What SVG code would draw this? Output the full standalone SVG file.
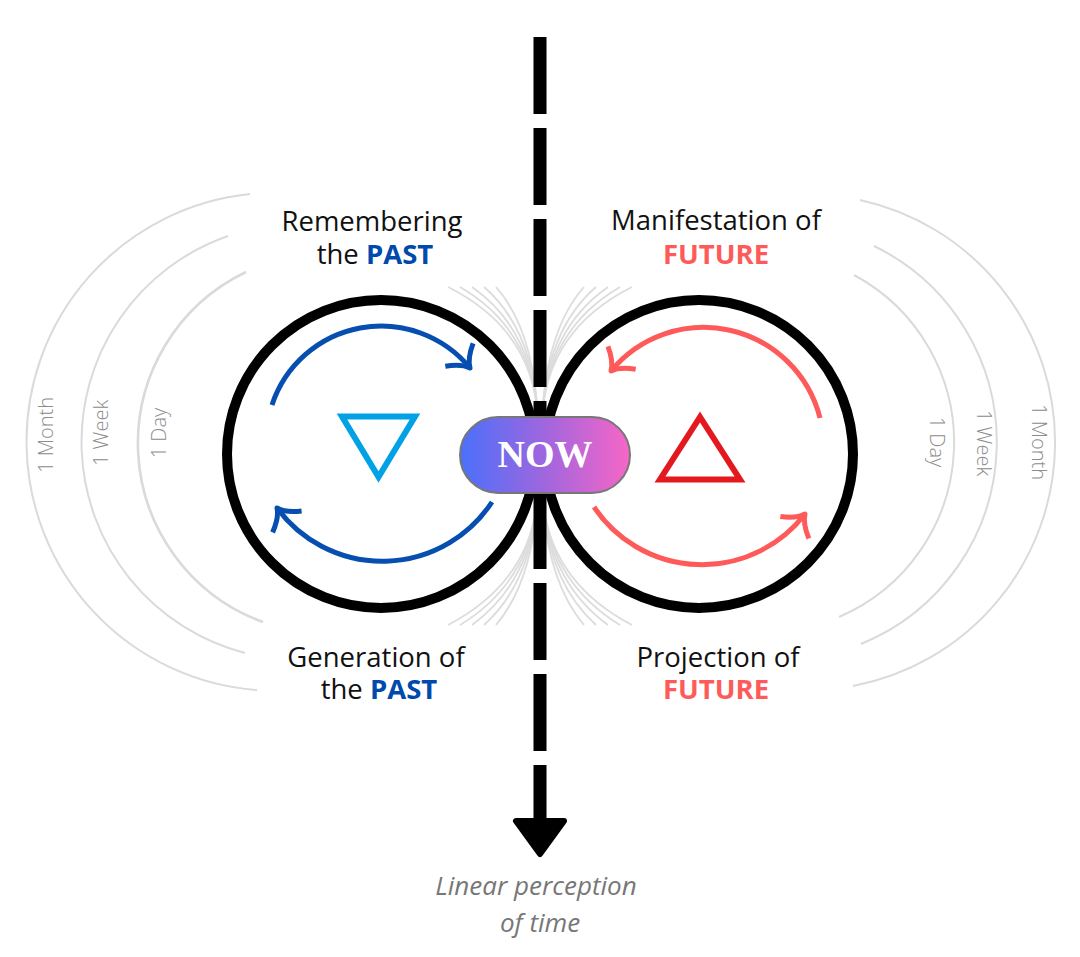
<svg xmlns="http://www.w3.org/2000/svg" width="1080" height="957" viewBox="0 0 1080 957">
<style>
.scale{fill:none;stroke:#dadada;stroke-width:2}
.fan{fill:none;stroke:#dcdcdc;stroke-width:1.8}
.ring{fill:none;stroke:#000;stroke-width:10}
.lbl{font-family:"Open Sans","Liberation Sans",sans-serif;font-size:27.5px;fill:#111;text-anchor:middle}
.b{font-weight:bold}
.past{fill:#004aad}
.fut{fill:#ff5a5a}
.tick{font-family:"Open Sans","Liberation Sans",sans-serif;font-size:20px;font-weight:300;fill:#8c8c8c;text-anchor:middle}
.blue{fill:none;stroke:#064fb0;stroke-width:5;stroke-linecap:butt}
.red{fill:none;stroke:#ff5a5a;stroke-width:5;stroke-linecap:butt}
</style>
<defs>
<linearGradient id="nowGrad" x1="0" y1="0" x2="1" y2="0">
<stop offset="0" stop-color="#4a70fb"/>
<stop offset="0.5" stop-color="#a066de"/>
<stop offset="1" stop-color="#f766c6"/>
</linearGradient>
<marker id="headB" viewBox="-22 -22 26 44" markerWidth="26" markerHeight="44" refX="0" refY="0" orient="auto" markerUnits="userSpaceOnUse">
<path d="M-17,-18 Q-9,-4 0,0 Q-9,4 -17,18" fill="none" stroke="#064fb0" stroke-width="5" stroke-linejoin="round"/>
</marker>
<marker id="headR" viewBox="-22 -22 26 44" markerWidth="26" markerHeight="44" refX="0" refY="0" orient="auto" markerUnits="userSpaceOnUse">
<path d="M-17,-18 Q-9,-4 0,0 Q-9,4 -17,18" fill="none" stroke="#ff5a5a" stroke-width="5" stroke-linejoin="round"/>
</marker>
</defs>
<rect width="1080" height="957" fill="#fff"/>

<g id="time-scales">
<path class="scale" d="M250,194 A249,249 0 0 0 257,690"/>
<path class="scale" d="M228,236 A218,218 0 0 0 245,653"/>
<path class="scale" d="M246,272 A190,190 0 0 0 263,622" style="stroke-width:2.6"/>
<path class="scale" d="M860,200 A248,248 0 0 1 853,686"/>
<path class="scale" d="M874,246 A218,218 0 0 1 861,644"/>
<path class="scale" d="M854,275 A190,190 0 0 1 839,617"/>
<text class="tick" transform="translate(53,435) rotate(-90)">1 Month</text>
<text class="tick" transform="translate(108,433) rotate(-90)">1 Week</text>
<text class="tick" transform="translate(166,433) rotate(-90)">1 Day</text>
<text class="tick" transform="translate(1032,442) rotate(90)">1 Month</text>
<text class="tick" transform="translate(977,443) rotate(90)">1 Week</text>
<text class="tick" transform="translate(930,442) rotate(90)">1 Day</text>
</g>

<g id="fan-lines">
<path class="fan" d="M538,420 Q534,330 448,287"/>
<path class="fan" d="M538,420 Q534,330 460,287"/>
<path class="fan" d="M538,420 Q534,330 472,287"/>
<path class="fan" d="M538,420 Q534,330 484,287"/>
<path class="fan" d="M538,420 Q534,330 496,287"/>
<path class="fan" d="M542,420 Q546,330 584,287"/>
<path class="fan" d="M542,420 Q546,330 596,287"/>
<path class="fan" d="M542,420 Q546,330 608,287"/>
<path class="fan" d="M542,420 Q546,330 620,287"/>
<path class="fan" d="M542,420 Q546,330 632,287"/>
<path class="fan" d="M538,490 Q534,580 448,625"/>
<path class="fan" d="M538,490 Q534,580 460,625"/>
<path class="fan" d="M538,490 Q534,580 472,625"/>
<path class="fan" d="M538,490 Q534,580 484,625"/>
<path class="fan" d="M538,490 Q534,580 496,625"/>
<path class="fan" d="M542,490 Q546,580 584,625"/>
<path class="fan" d="M542,490 Q546,580 596,625"/>
<path class="fan" d="M542,490 Q546,580 608,625"/>
<path class="fan" d="M542,490 Q546,580 620,625"/>
<path class="fan" d="M542,490 Q546,580 632,625"/>
</g>

<g id="past-circle">
<circle class="ring" cx="381" cy="454" r="154"/>
<polygon points="342,416.5 415,416.5 378.5,477" fill="none" stroke="#00a2e5" stroke-width="6"/>
</g>

<g id="future-circle">
<circle class="ring" cx="699" cy="454" r="154"/>
<polygon points="700,417 660,479.5 740,479.5" fill="none" stroke="#e3191f" stroke-width="6"/>
</g>

<g id="connectors">
<line x1="540" y1="37" x2="540" y2="826" stroke="#000" stroke-width="13" stroke-dasharray="77 14"/>
<polygon points="516,821 564,821 540,854" fill="#000" stroke="#000" stroke-width="6" stroke-linejoin="round"/>
<path class="blue" d="M272,405 A115,115 0 0 1 470,368" marker-end="url(#headB)"/>
<path class="blue" d="M492,502 A131,131 0 0 1 277,508" marker-end="url(#headB)"/>
<path class="red" d="M820,418 A120,120 0 0 0 611,371" marker-end="url(#headR)"/>
<path class="red" d="M594,507 A130,130 0 0 0 805,514" marker-end="url(#headR)"/>
</g>

<g id="now">
<rect x="460" y="417" width="170" height="76" rx="38" ry="38" fill="url(#nowGrad)" stroke="#777" stroke-width="2"/>
<text x="545" y="467" font-family="'Liberation Serif','DejaVu Serif',serif" font-weight="bold" font-size="38" fill="#fff" text-anchor="middle">NOW</text>
</g>

<g id="label-remembering">
<text class="lbl" x="372" y="231">Remembering</text>
<text class="lbl" x="375" y="264">the <tspan class="b past">PAST</tspan></text>
</g>
<g id="label-manifestation">
<text class="lbl" x="716" y="230">Manifestation of</text>
<text class="lbl b fut" x="716" y="264">FUTURE</text>
</g>
<g id="label-generation">
<text class="lbl" x="376" y="667">Generation of</text>
<text class="lbl" x="379" y="699">the <tspan class="b past">PAST</tspan></text>
</g>
<g id="label-projection">
<text class="lbl" x="718" y="667">Projection of</text>
<text class="lbl b fut" x="716" y="699">FUTURE</text>
</g>
<g id="label-linear">
<text x="536" y="895" font-family="'Open Sans','Liberation Sans',sans-serif" font-style="italic" font-size="26" fill="#777" text-anchor="middle">Linear perception</text>
<text x="540" y="932" font-family="'Open Sans','Liberation Sans',sans-serif" font-style="italic" font-size="26" fill="#777" text-anchor="middle">of time</text>
</g>
</svg>
